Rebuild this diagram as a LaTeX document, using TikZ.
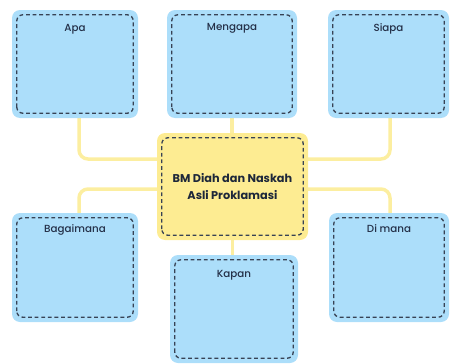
\documentclass[tikz,border=0pt]{standalone}
\usepackage{fontspec}
\setmainfont{Poppins}
\newfontfamily\medfont{Poppins}[UprightFont=* Medium]
\usetikzlibrary{positioning,backgrounds}
\definecolor{skyfill}{RGB}{172,222,250}
\definecolor{sunfill}{RGB}{253,236,146}
\definecolor{sunline}{RGB}{252,238,160}
\definecolor{dashgray}{RGB}{55,66,84}
\definecolor{inkblue}{RGB}{36,48,72}
\tikzset{
  qbox/.style={rectangle, rounded corners=8pt, fill=skyfill, inner sep=0pt},
  hubbox/.style={rectangle, rounded corners=8pt, fill=sunfill, inner sep=0pt},
  dashbox/.style={draw=dashgray, line width=1.3pt, dash pattern=on 3.8pt off 2.8pt, rounded corners=6pt},
  link/.style={draw=sunline, line width=3.5pt, rounded corners=9pt},
  lab/.style={font=\medfont\fontsize{10.3}{12}\selectfont, text=inkblue, anchor=center}
}

\begin{document}
\begin{tikzpicture}[x=1pt,y=-1pt]
\useasboundingbox (0,0) rectangle (450,364);

% kotak pertanyaan
\node[qbox, minimum width=126pt, minimum height=108pt] (apa) at (75,64) {};
\node[qbox, minimum width=130pt, minimum height=108pt] (mengapa) at (232,64) {};
\node[qbox, minimum width=121pt, minimum height=108pt] (siapa) at (388.5,64) {};
\node[qbox, minimum width=126pt, minimum height=109pt] (bagaimana) at (75,267.5) {};
\node[qbox, minimum width=120pt, minimum height=109pt] (dimana) at (389,267.5) {};
\node[qbox, minimum width=128pt, minimum height=108pt] (kapan) at (234,309) {};

% kotak tengah
\node[hubbox, minimum width=151pt, minimum height=107pt] (hub) at (232.5,186.5) {};

% garis penghubung
\coordinate (hubA) at (hub.west |- 0,159);
\coordinate (hubB) at (hub.west |- 0,189);
\coordinate (hubC) at (hub.east |- 0,159);
\coordinate (hubD) at (hub.east |- 0,189);
\begin{pgfonlayer}{background}
  \draw[link] ([xshift=4pt]apa.south) |- (hubA);
  \draw[link] ([xshift=4pt]bagaimana.north) |- (hubB);
  \draw[link] ([xshift=1.5pt]siapa.south) |- (hubC);
  \draw[link] ([xshift=1pt]dimana.north) |- (hubD);
  \draw[link] (mengapa.south) -- (mengapa.south |- hub.north);
  \draw[link] (kapan.north -| hub.south) -- (hub.south);
\end{pgfonlayer}

\foreach \n in {apa,mengapa,siapa,bagaimana,dimana,kapan,hub}
  \draw[dashbox] ([shift={(5pt,5pt)}]\n.south west) rectangle ([shift={(-5pt,-5pt)}]\n.north east);

% labels
\node[lab] (apaT) at ([yshift=-19pt]apa.north) {Apa};
\node[lab] (mengapaT) at ([yshift=-19pt]mengapa.north) {Mengapa};
\node[lab] (siapaT) at ([yshift=-19pt]siapa.north) {Siapa};
\node[lab] (bagaimanaT) at ([yshift=-17pt]bagaimana.north) {Bagaimana};
\node[lab] (dimanaT) at ([yshift=-16pt]dimana.north) {Di mana};
\node[lab] (kapanT) at ([yshift=-20pt]kapan.north) {Kapan};
\node[lab, font=\bfseries\fontsize{11.3}{17.5}\selectfont, text=inkblue!80!black, align=center] (hubT) at (hub.center) {BM Diah dan Naskah\\Asli Proklamasi};
\end{tikzpicture}
\end{document}
